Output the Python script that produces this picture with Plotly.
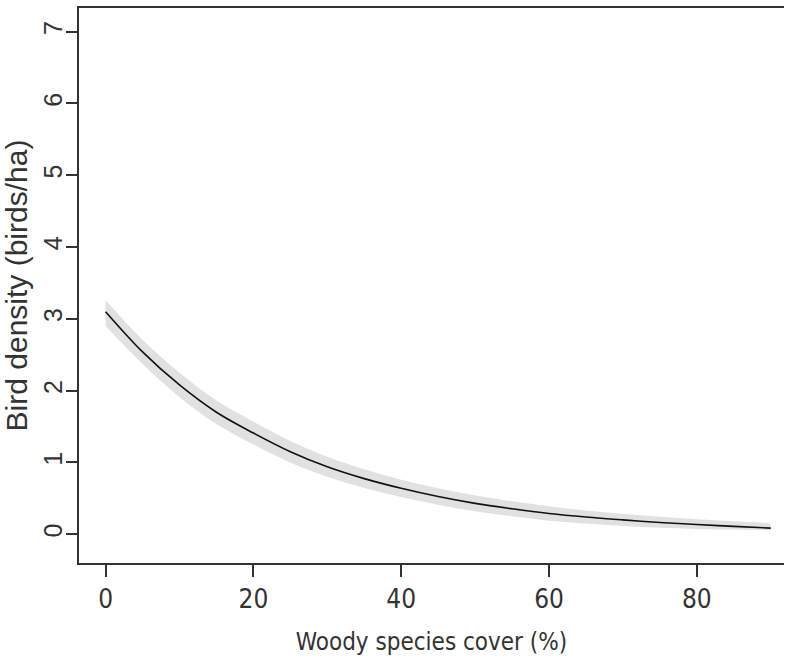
import plotly.graph_objects as go

cover = [0, 5, 10, 15, 20, 25, 30, 35, 40, 45, 50, 55, 60, 65, 70, 75, 80, 85, 90]
density = [3.10, 2.54, 2.08, 1.70, 1.41, 1.15, 0.94, 0.775, 0.64, 0.525, 0.43, 0.355, 0.29, 0.24, 0.20, 0.165, 0.137, 0.11, 0.086]
upper = [3.26, 2.71, 2.25, 1.865, 1.57, 1.30, 1.08, 0.905, 0.76, 0.64, 0.54, 0.46, 0.39, 0.33, 0.285, 0.245, 0.21, 0.18, 0.155]
lower = [2.90, 2.37, 1.91, 1.535, 1.25, 1.00, 0.80, 0.645, 0.52, 0.41, 0.32, 0.25, 0.19, 0.15, 0.115, 0.09, 0.075, 0.065, 0.06]

x_ticks = [0, 20, 40, 60, 80]
y_ticks = [0, 1, 2, 3, 4, 5, 6, 7]

fig = go.Figure()
fig.add_trace(go.Scatter(x=cover, y=upper, mode="lines", line=dict(width=0, shape="spline"),
                         hoverinfo="skip", showlegend=False))
fig.add_trace(go.Scatter(x=cover, y=lower, mode="lines", line=dict(width=0, shape="spline"),
                         fill="tonexty", fillcolor="#e1e1e1", hoverinfo="skip", showlegend=False))
fig.add_trace(go.Scatter(x=cover, y=density, mode="lines",
                         line=dict(color="#111111", width=1.6, shape="spline"), showlegend=False))

narrow = "DejaVu Sans Condensed, Liberation Sans Narrow, sans-serif"
fig.update_layout(
    width=785, height=663,
    margin=dict(l=79, r=1, t=8, b=100),
    paper_bgcolor="white", plot_bgcolor="white",
    xaxis=dict(range=[-3.6, 91.8], tickvals=x_ticks, ticks="outside", ticklen=12, tickwidth=2,
               tickcolor="#333", showline=True, linecolor="#333", linewidth=2, mirror=True,
               showgrid=False, zeroline=False,
               tickfont=dict(family=narrow, size=26, color="#333"),
               title=dict(text="Woody species cover (%)", font=dict(family=narrow, size=24, color="#333"),
                          standoff=20)),
    yaxis=dict(range=[-0.40, 7.33], tickvals=y_ticks, ticks="outside", ticklen=11, tickwidth=2,
               tickcolor="#333", showline=True, linecolor="#333", linewidth=2, mirror=False,
               showgrid=False, zeroline=False, tickangle=-90, ticklabelstandoff=-6,
               tickfont=dict(family="Liberation Sans, Arial, sans-serif", size=25, color="#333"),
               title=dict(text="Bird density (birds/ha)",
                          font=dict(family="Liberation Sans, Arial, sans-serif", size=30, color="#333"),
                          standoff=4)),
)
fig.write_html("out.html")
